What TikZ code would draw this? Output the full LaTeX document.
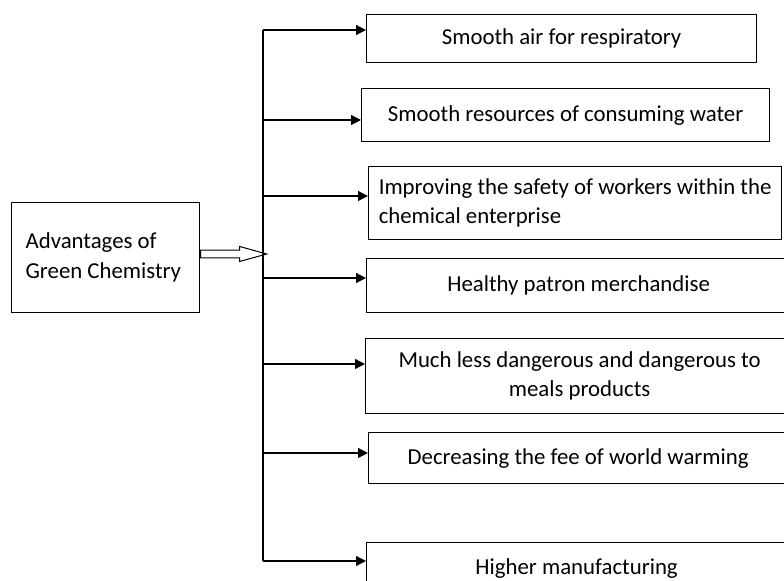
\documentclass[tikz,border=0pt]{standalone}
\usepackage{fontspec}
\setmainfont{Carlito}
\usetikzlibrary{positioning, calc, shapes.arrows, arrows.meta}

\tikzset{
  item/.style={draw, line width=0.6pt, anchor=north west, inner sep=0pt, align=center, font=\fontsize{11.4}{14.8}\selectfont},
  feed/.style={line width=0.6pt, -{Triangle[length=5pt, width=5pt]}},
}

\begin{document}
\begin{tikzpicture}[x=0.5pt, y=-0.5pt]
    \useasboundingbox (0,0) rectangle (784,581);
    \clip (0,0) rectangle (784,581);
    %blocco di partenza
    \node[item, minimum height=55pt, text width=80pt, inner xsep=7pt, align=flush left] (adv) at (11,202) {Advantages of\\Green Chemistry};
    %vantaggi
    \node[item, minimum width=195pt, minimum height=24pt] (b1) at (366,14) {Smooth air for respiratory};
    \node[item, minimum width=204pt, minimum height=26.5pt] (b2) at (361,88) {Smooth resources of consuming water};
    \node[item, minimum width=206.5pt, minimum height=36.5pt, align=flush left] (b3) at (368,166) {Improving the safety of workers within the\\chemical enterprise};
    \node[item, minimum width=212pt, minimum height=27pt] (b4) at (366,258) {Healthy patron merchandise};
    \node[item, minimum width=214pt, minimum height=37.5pt] (b5) at (365,338) {Much less dangerous and dangerous to\\meals products};
    \node[item, minimum width=209.5pt, minimum height=25.5pt] (b6) at (368,432) {Decreasing the fee of world warming};
    \node[item, minimum width=210pt, minimum height=26pt] (b7) at (366,542) {Higher manufacturing};
    %punti sulla linea verticale
    \coordinate (t1) at (263,30);
    \coordinate (t2) at (263,120);
    \coordinate (t3) at (263,196);
    \coordinate (t4) at (263,278);
    \coordinate (t5) at (263,364);
    \coordinate (t6) at (263,453);
    \coordinate (t7) at (263,561);
    \coordinate (in) at (263,254);
    %linea verticale e frecce
    \draw[line width=0.6pt] (t1) -- (t7);
    \foreach \i in {1,...,7}
        \draw[feed] (t\i) -- (t\i -| b\i.west);
    %freccia doppia
    \node[single arrow, draw, line width=0.5pt, anchor=tail, inner sep=1.65pt, minimum height=33pt,
          single arrow head extend=1.85pt, single arrow tip angle=31] (link) at (adv.east |- in) {};
\end{tikzpicture}
\end{document}
